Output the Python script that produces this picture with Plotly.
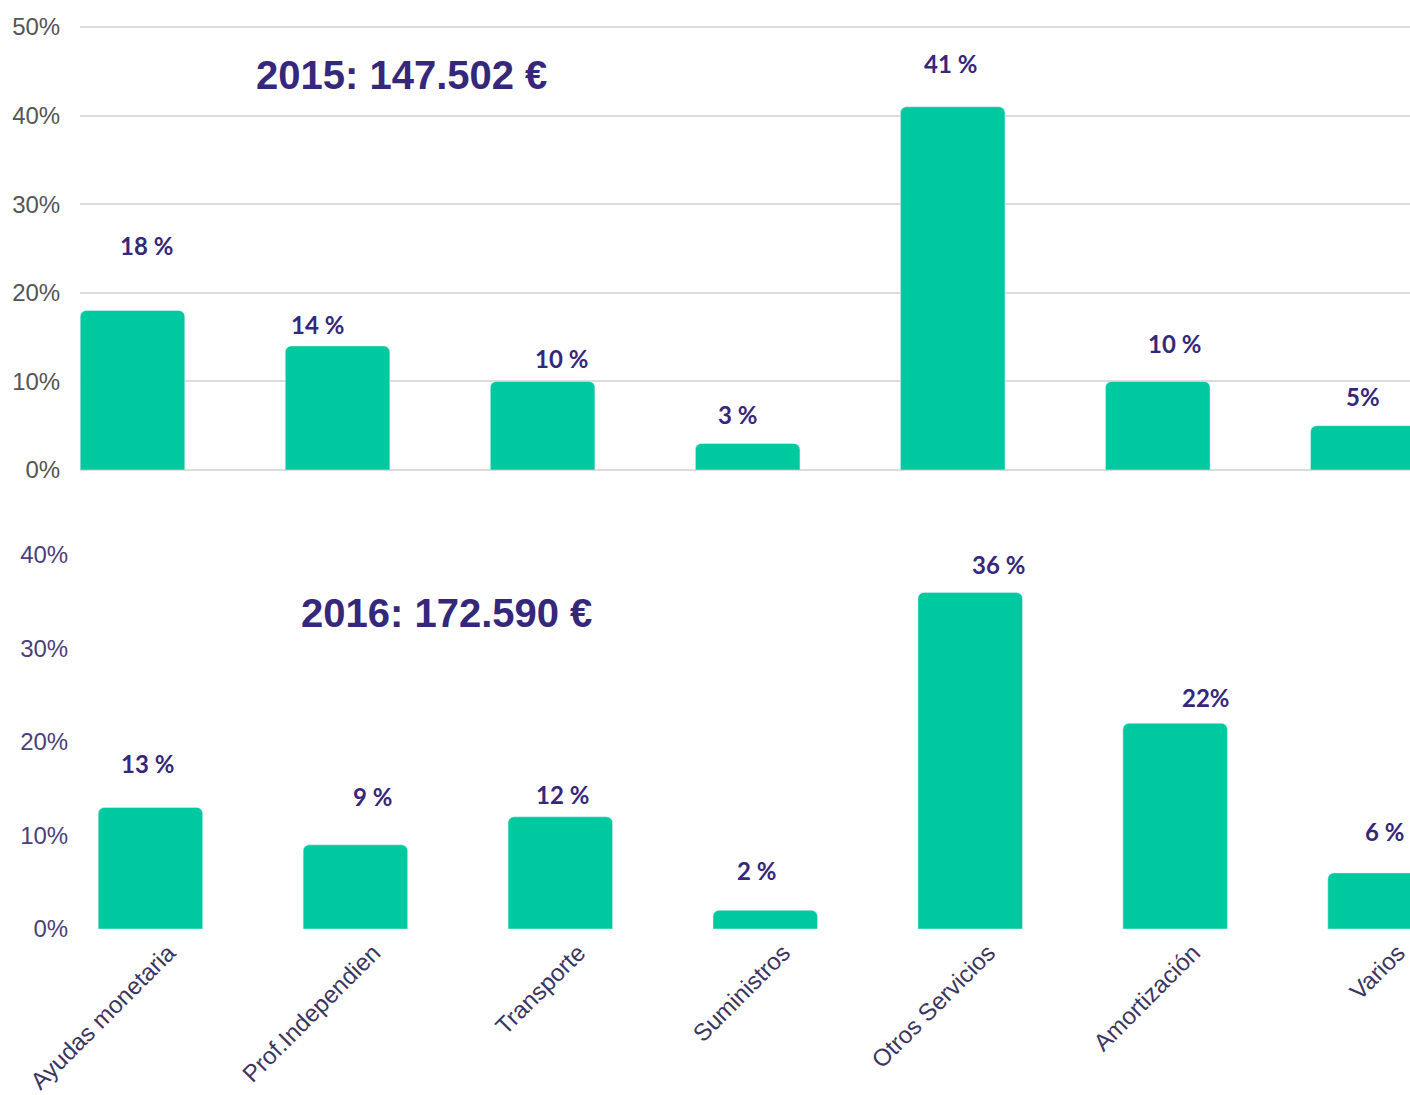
import plotly.graph_objects as go

categories = ["Ayudas monetaria", "Prof.Independien", "Transporte", "Suministros",
              "Otros Servicios", "Amortización", "Varios"]
values_2015 = [18, 14, 10, 3, 41, 10, 5]
labels_2015 = ["18 %", "14 %", "10 %", "3 %", "41 %", "10 %", "5%"]
values_2016 = [13, 9, 12, 2, 36, 22, 6]
labels_2016 = ["13 %", "9 %", "12 %", "2 %", "36 %", "22%", "6 %"]
title_2015 = "2015: 147.502 €"
title_2016 = "2016: 172.590 €"
yticks_2015 = [0, 10, 20, 30, 40, 50]
yticks_2016 = [0, 10, 20, 30, 40]

# label placement offsets (pixels) relative to top of each bar
shift_2015 = [(14, 65), (-20, 21), (19, 23), (-10, 29), (-2, 43), (17, 38), (0, 29)]
shift_2016 = [(-3, 44), (17, 48), (2, 22), (-9, 40), (28, 28), (31, 26), (4, 41)]

BAR = "#00C9A0"
PURPLE = "#35277A"
W, H = 1410, 1095

fig = go.Figure()
idx = list(range(len(categories)))

fig.add_trace(go.Bar(x=idx, y=values_2015, marker=dict(color=BAR, cornerradius=6),
                     xaxis="x", yaxis="y", width=0.51, hoverinfo="skip"))
fig.add_trace(go.Bar(x=idx, y=values_2016, marker=dict(color=BAR, cornerradius=6),
                     xaxis="x2", yaxis="y2", width=0.51, hoverinfo="skip"))

LABEL_FONT = dict(family="Lato", size=24, color=PURPLE, weight="bold")
annotations = []
for i, (v, t) in enumerate(zip(values_2015, labels_2015)):
    dx, dy = shift_2015[i]
    annotations.append(dict(x=i, y=v, xref="x", yref="y", text=t, showarrow=False,
                            xshift=dx, yshift=dy, yanchor="middle", font=LABEL_FONT))
for i, (v, t) in enumerate(zip(values_2016, labels_2016)):
    dx, dy = shift_2016[i]
    annotations.append(dict(x=i, y=v, xref="x2", yref="y2", text=t, showarrow=False,
                            xshift=dx, yshift=dy, yanchor="middle", font=LABEL_FONT))

TITLE_FONT = dict(family="Liberation Sans", size=40, color=PURPLE, weight="bold")
annotations.append(dict(x=401 / W, y=1 - 75 / H, xref="paper", yref="paper", text=title_2015,
                        showarrow=False, xanchor="center", yanchor="middle", font=TITLE_FONT))
annotations.append(dict(x=446 / W, y=1 - 613 / H, xref="paper", yref="paper", text=title_2016,
                        showarrow=False, xanchor="center", yanchor="middle", font=TITLE_FONT))

fig.update_layout(
    width=W, height=H,
    margin=dict(l=0, r=0, t=0, b=0, autoexpand=False),
    paper_bgcolor="white", plot_bgcolor="white",
    showlegend=False,
    annotations=annotations,
    xaxis=dict(domain=[80 / W, 1], range=[-0.256, 6.23], showticklabels=False,
               showgrid=False, zeroline=False, showline=False, anchor="y", automargin=False),
    yaxis=dict(domain=[1 - 470 / H, 1 - 25 / H], range=[0, 50.23], tickvals=yticks_2015,
               ticktext=[f"{v}%" for v in yticks_2015], showgrid=True, gridcolor="#DCDCDC",
               gridwidth=1.5, zeroline=True, zerolinecolor="#DCDCDC", zerolinewidth=1.5,
               showline=False, anchor="x", automargin=False,
               ticks="outside", ticklen=14, tickcolor="rgba(0,0,0,0)",
               tickfont=dict(family="Liberation Sans", size=24, color="#555555")),
    xaxis2=dict(domain=[98 / W, 1], range=[-0.256, 6.146], tickvals=idx, ticktext=categories,
                tickangle=-45, showgrid=False, zeroline=False, showline=False, anchor="y2",
                automargin=False, ticklabelshift=18, ticklabelstandoff=4,
                ticklabeloverflow="allow",
                tickfont=dict(family="Liberation Sans", size=24, color="#3B3560")),
    yaxis2=dict(domain=[1 - 929 / H, 1 - 555 / H], range=[0, 40], tickvals=yticks_2016,
                ticktext=[f"{v}%" for v in yticks_2016], showgrid=False, zeroline=False,
                showline=False, anchor="x2", ticks="outside", ticklen=24, automargin=False,
                tickcolor="rgba(0,0,0,0)",
                tickfont=dict(family="Liberation Sans", size=24, color="#4A3F7A")),
)

fig.write_html("out.html", config={"displayModeBar": False},
               post_script="document.body.style.margin='0';document.body.style.overflow='hidden';")
